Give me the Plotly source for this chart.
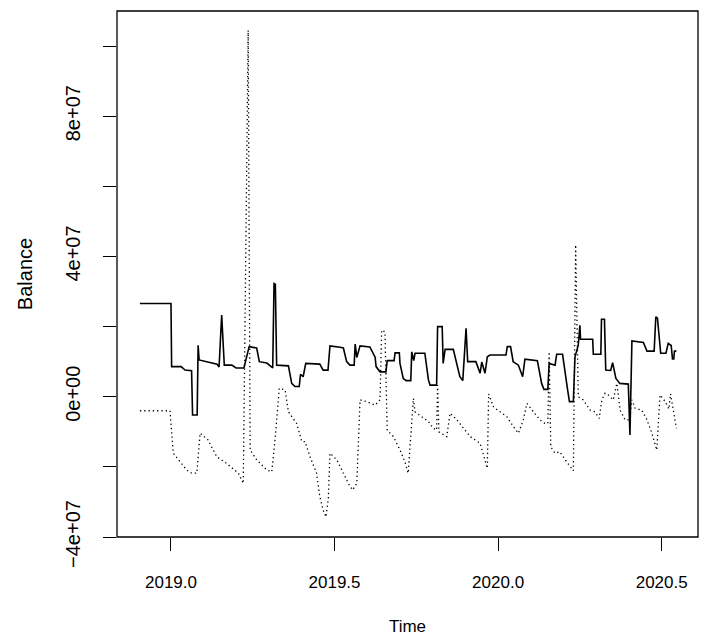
import plotly.graph_objects as go

# Series 1 (solid line): time in years, balance in millions
solid_time = [2018.905, 2019.000, 2019.002, 2019.031, 2019.043, 2019.063, 2019.066, 2019.080,
              2019.083, 2019.086, 2019.141, 2019.147, 2019.155, 2019.163, 2019.186, 2019.199,
              2019.223, 2019.231, 2019.239, 2019.262, 2019.270, 2019.293, 2019.311, 2019.315,
              2019.319, 2019.323, 2019.359, 2019.369, 2019.379, 2019.392, 2019.396, 2019.404,
              2019.412, 2019.455, 2019.465, 2019.480, 2019.486, 2019.517, 2019.527, 2019.537,
              2019.547, 2019.560, 2019.563, 2019.568, 2019.578, 2019.608, 2019.624, 2019.627,
              2019.639, 2019.657, 2019.661, 2019.682, 2019.685, 2019.698, 2019.700, 2019.710,
              2019.719, 2019.733, 2019.736, 2019.742, 2019.746, 2019.776, 2019.787, 2019.792,
              2019.812, 2019.815, 2019.829, 2019.832, 2019.838, 2019.863, 2019.883, 2019.892,
              2019.902, 2019.907, 2019.932, 2019.945, 2019.950, 2019.960, 2019.967, 2019.975,
              2020.024, 2020.028, 2020.038, 2020.046, 2020.062, 2020.075, 2020.082, 2020.120,
              2020.133, 2020.140, 2020.152, 2020.156, 2020.174, 2020.179, 2020.197, 2020.211,
              2020.218, 2020.230, 2020.235, 2020.245, 2020.250, 2020.252, 2020.289, 2020.291,
              2020.314, 2020.316, 2020.325, 2020.329, 2020.344, 2020.350, 2020.360, 2020.372,
              2020.398, 2020.403, 2020.409, 2020.444, 2020.455, 2020.477, 2020.482, 2020.487,
              2020.497, 2020.513, 2020.520, 2020.529, 2020.533, 2020.537, 2020.539, 2020.545]
solid_balance = [26.6, 26.6, 8.6, 8.6, 7.6, 7.4, -5.2, -5.2,
                 14.7, 10.5, 9.3, 8.5, 23.3, 9.0, 9.0, 8.2,
                 8.2, 11.4, 14.3, 13.9, 10.0, 9.6, 8.2, 32.3,
                 32.1, 9.0, 8.8, 3.8, 2.9, 2.9, 6.4, 5.7,
                 9.5, 9.3, 7.6, 7.6, 14.5, 14.1, 13.9, 10.0,
                 9.0, 9.0, 15.0, 11.2, 14.5, 14.2, 11.3, 8.6,
                 7.1, 7.1, 10.3, 10.3, 12.5, 12.5, 9.5, 5.2,
                 4.6, 4.6, 12.8, 10.3, 12.4, 12.4, 4.8, 3.3,
                 3.3, 20.0, 20.0, 9.5, 13.5, 13.5, 5.7, 4.6,
                 19.5, 10.0, 10.0, 6.7, 9.9, 6.7, 11.4, 11.9,
                 11.9, 14.3, 14.3, 10.0, 9.0, 5.7, 10.7, 10.3,
                 3.8, 2.1, 2.1, 9.5, 9.0, 12.1, 12.1, 2.9,
                 -1.4, -1.4, 11.4, 14.7, 20.4, 16.4, 16.4, 12.1,
                 12.1, 22.1, 22.1, 7.6, 7.5, 9.7, 5.2, 3.8,
                 3.6, -10.9, 15.9, 15.5, 13.0, 13.0, 22.8, 22.4,
                 12.4, 12.4, 15.2, 14.6, 10.8, 10.8, 13.0, 13.0]

# Series 2 (dotted line)
dotted_time = [2018.905, 2018.997, 2019.007, 2019.048, 2019.063, 2019.079, 2019.089, 2019.113,
               2019.140, 2019.170, 2019.206, 2019.221, 2019.236, 2019.242, 2019.262, 2019.293,
               2019.308, 2019.318, 2019.331, 2019.349, 2019.359, 2019.384, 2019.400, 2019.410,
               2019.425, 2019.445, 2019.455, 2019.465, 2019.474, 2019.481, 2019.486, 2019.507,
               2019.527, 2019.542, 2019.555, 2019.568, 2019.578, 2019.598, 2019.624, 2019.639,
               2019.644, 2019.654, 2019.661, 2019.680, 2019.700, 2019.715, 2019.725, 2019.741,
               2019.746, 2019.766, 2019.787, 2019.802, 2019.812, 2019.815, 2019.819, 2019.843,
               2019.853, 2019.874, 2019.894, 2019.915, 2019.945, 2019.960, 2019.967, 2019.971,
               2019.986, 2020.006, 2020.027, 2020.047, 2020.062, 2020.077, 2020.088, 2020.108,
               2020.128, 2020.143, 2020.152, 2020.156, 2020.161, 2020.174, 2020.189, 2020.205,
               2020.220, 2020.230, 2020.237, 2020.245, 2020.260, 2020.281, 2020.296, 2020.309,
               2020.317, 2020.327, 2020.337, 2020.352, 2020.363, 2020.373, 2020.388, 2020.401,
               2020.409, 2020.419, 2020.439, 2020.455, 2020.470, 2020.485, 2020.495, 2020.511,
               2020.522, 2020.527, 2020.545]
dotted_balance = [-4.0, -4.0, -16.1, -20.9, -21.8, -21.8, -10.4, -12.3,
                  -17.1, -19.0, -21.8, -24.7, 104.5, -15.2, -18.0, -20.9,
                  -21.4, -12.3, 2.4, 1.9, -4.3, -7.6, -12.8, -12.8,
                  -17.1, -21.8, -28.5, -32.3, -34.3, -28.9, -16.1, -18.0,
                  -21.8, -24.7, -26.6, -24.7, -0.9, -1.4, -2.4, -0.9,
                  19.0, 18.5, -9.5, -11.4, -15.2, -18.5, -21.8, -0.5,
                  -4.3, -5.7, -7.1, -9.0, -9.5, 3.3, -10.0, -11.4,
                  -4.7, -6.6, -9.0, -11.4, -13.3, -18.0, -20.4, 0.8,
                  -2.9, -4.3, -5.7, -8.6, -10.4, -6.6, -1.9, -4.3,
                  -6.6, -7.6, -7.6, 12.8, -14.3, -16.1, -15.7, -18.0,
                  -20.0, -21.1, 43.3, 0.0, -0.9, -3.8, -4.3, -6.2,
                  -0.9, 1.0, 0.5, -0.9, 3.8, -3.8, -6.6, -6.6,
                  -0.9, -3.3, -3.8, -6.6, -10.4, -15.2, 0.5, -1.4,
                  -3.5, 0.8, -9.0]

# Axis ticks
x_tick_vals = [2019.0, 2019.5, 2020.0, 2020.5]
x_tick_text = ["2019.0", "2019.5", "2020.0", "2020.5"]
y_tick_vals = [-40, -20, 0, 20, 40, 60, 80, 100]
y_tick_text = ["\u22124e+07", "", "0e+00", "", "4e+07", "", "8e+07", ""]

font_family = "Liberation Sans, Arial, Helvetica, sans-serif"

fig = go.Figure()
fig.add_trace(go.Scatter(x=solid_time, y=solid_balance, mode="lines",
                         line=dict(color="black", width=1.6), showlegend=False))
fig.add_trace(go.Scatter(x=dotted_time, y=dotted_balance, mode="lines",
                         line=dict(color="black", width=1.3, dash="1.3px,3px"), showlegend=False))

fig.update_layout(
    width=715, height=641,
    margin=dict(l=109, r=25, t=3, b=112, autoexpand=False),
    paper_bgcolor="white", plot_bgcolor="white",
    font=dict(family=font_family, size=16, color="black"),
    xaxis=dict(range=[2018.835, 2020.611], tickvals=x_tick_vals, ticktext=x_tick_text,
               ticks="outside", ticklen=13, tickwidth=1.2, tickcolor="black",
               showgrid=False, zeroline=False, showline=False, automargin=False,
               tickfont=dict(size=17),
               title=dict(text="Time", standoff=28, font=dict(size=17)), ticklabelstandoff=17),
    yaxis=dict(range=[-40, 110], tickvals=y_tick_vals, ticktext=y_tick_text,
               ticks="outside", ticklen=13, tickwidth=1.2, tickcolor="black",
               tickangle=-90, showgrid=False, zeroline=False, showline=False, automargin=False,
               tickfont=dict(size=20),
               title=dict(text="Balance", standoff=24, font=dict(size=20)), ticklabelstandoff=15),
    shapes=[dict(type="rect", xref="paper", yref="paper", x0=0, y0=0, x1=1, y1=1,
                 line=dict(color="black", width=1.3))],
)

fig.write_html("out.html")
